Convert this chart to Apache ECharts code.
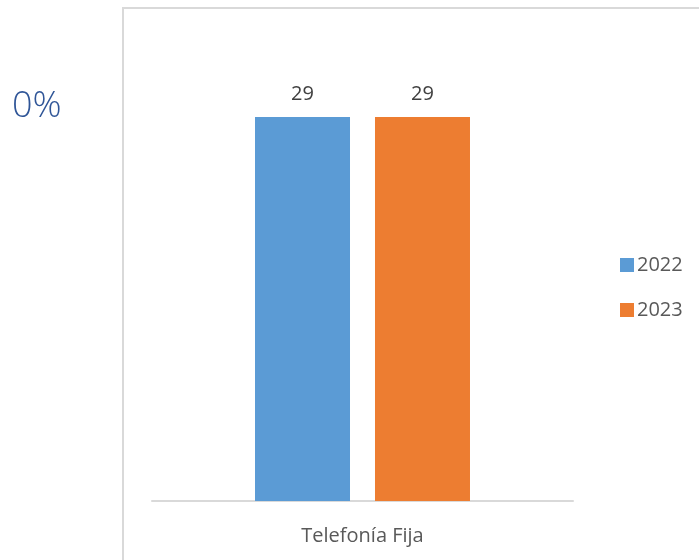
<!DOCTYPE html>
<html>
<head>
<meta charset="utf-8">
<script src="https://cdn.jsdelivr.net/npm/echarts@6/dist/echarts.min.js"></script>
<style>
html,body{margin:0;padding:0;background:#fff;}
#chart{width:699px;height:560px;}
</style>
</head>
<body>
<div id="chart"></div>
<script>
const categories = ['Telefonía Fija'];
const seriesNames = ['2022', '2023'];
const values2022 = [29];
const values2023 = [29];
const sideLabel = '0%';

const FONT = '"Open Sans", sans-serif';
const chart = echarts.init(document.getElementById('chart'), null, {renderer: 'canvas'});
const labelStyle = {show: true, position: 'top', distance: 13, color: '#404040', fontSize: 20, fontFamily: FONT};
chart.setOption({
  animation: false,
  backgroundColor: '#ffffff',
  graphic: [
    {type: 'rect', shape: {x: 123, y: 8, width: 700, height: 600}, style: {fill: 'none', stroke: '#d9d9d9', lineWidth: 2}, z: -1},
    {type: 'text', left: 12, top: 89, style: {text: sideLabel, fill: '#2F5597', fontSize: 36, fontWeight: 300, fontFamily: FONT}}
  ],
  legend: {
    orient: 'vertical', left: 615, top: 250,
    itemWidth: 14, itemHeight: 14, itemGap: 25,
    icon: 'rect',
    textStyle: {color: '#595959', fontSize: 20, fontFamily: FONT, padding: [0, 0, 0, -2]},
    data: seriesNames
  },
  grid: {left: 152, right: 126, top: 117, bottom: 59, containLabel: false},
  xAxis: {
    type: 'category', data: categories,
    axisLine: {lineStyle: {color: '#d9d9d9', width: 2}},
    axisTick: {show: false},
    axisLabel: {color: '#595959', fontSize: 20, fontFamily: FONT, margin: 25}
  },
  yAxis: {type: 'value', min: 0, max: 29, show: false, splitLine: {show: false}},
  series: [
    {name: seriesNames[0], type: 'bar', data: values2022, barWidth: 95, barGap: '26.3%', itemStyle: {color: '#5B9BD5'}, label: labelStyle},
    {name: seriesNames[1], type: 'bar', data: values2023, barWidth: 95, barGap: '26.3%', itemStyle: {color: '#ED7D31'}, label: labelStyle}
  ]
});
</script>
</body>
</html>
